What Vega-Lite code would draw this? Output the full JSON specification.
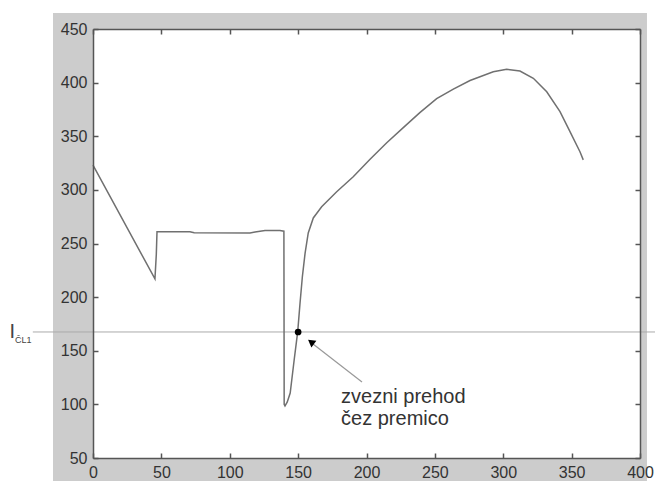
{
  "$schema": "https://vega.github.io/schema/vega-lite/v6.json",
  "width": 547,
  "height": 429,
  "autosize": {"type": "none"},
  "padding": {"left": 93, "top": 29, "right": 15, "bottom": 23},
  "background": "white",
  "data": {"values": [{}]},
  "config": {
    "view": {"stroke": null},
    "axis": {
      "grid": false,
      "title": null,
      "domainColor": "#555555",
      "domainWidth": 1.5,
      "tickColor": "#555555",
      "tickWidth": 1.5,
      "tickSize": 5,
      "labelFont": "Liberation Sans",
      "labelFontSize": 16,
      "labelColor": "#333333",
      "labelPadding": 6,
      "labelFlush": false
    }
  },
  "datasets": {
    "curve": [
      {"t": 0, "i": 323},
      {"t": 45.3, "i": 217},
      {"t": 46.3, "i": 240},
      {"t": 46.8, "i": 261},
      {"t": 70.9, "i": 261},
      {"t": 74, "i": 260},
      {"t": 114.8, "i": 259.8},
      {"t": 118.5, "i": 260.7},
      {"t": 125.8, "i": 262.2},
      {"t": 136.7, "i": 262.2},
      {"t": 139.6, "i": 261.5},
      {"t": 139.8, "i": 100},
      {"t": 140.4, "i": 98.5},
      {"t": 142, "i": 102},
      {"t": 144.2, "i": 110.6},
      {"t": 147.1, "i": 141.4},
      {"t": 149.7, "i": 167.8},
      {"t": 151.4, "i": 194.5},
      {"t": 153.1, "i": 219},
      {"t": 155.1, "i": 241.1},
      {"t": 157.4, "i": 259.8},
      {"t": 161.1, "i": 273.8},
      {"t": 167.2, "i": 284.3},
      {"t": 178.2, "i": 298.3},
      {"t": 190.3, "i": 312.3},
      {"t": 202.6, "i": 328.5},
      {"t": 214.8, "i": 344},
      {"t": 226.9, "i": 358},
      {"t": 239, "i": 372},
      {"t": 251.3, "i": 385},
      {"t": 263.5, "i": 394},
      {"t": 275.7, "i": 402},
      {"t": 283, "i": 405.5},
      {"t": 292.7, "i": 410.2},
      {"t": 302.5, "i": 412.5},
      {"t": 312.2, "i": 410.8},
      {"t": 322, "i": 404},
      {"t": 331.8, "i": 391.5},
      {"t": 341.5, "i": 373},
      {"t": 348.8, "i": 354.3},
      {"t": 356.1, "i": 335.6},
      {"t": 358.5, "i": 328}
    ],
    "crossing": [{"t": 150, "i": 167.5}]
  },
  "resolve": {"axis": {"x": "independent", "y": "independent"}},
  "layer": [
    {
      "mark": {"type": "rect", "fill": "#cccccc", "clip": false},
      "encoding": {
        "x": {"datum": -29.25, "type": "quantitative", "scale": {"domain": [0, 400], "nice": false, "zero": false}, "axis": null},
        "x2": {"datum": 405.1},
        "y": {"datum": 28.6, "type": "quantitative", "scale": {"domain": [50, 450], "nice": false, "zero": false}, "axis": null},
        "y2": {"datum": 464.9}
      }
    },
    {
      "mark": {"type": "rect", "fill": "white"},
      "encoding": {
        "x": {"datum": 0, "type": "quantitative",
              "axis": {"orient": "top", "zindex": 1, "offset": -5, "domain": false, "labels": false, "ticks": true, "values": [0, 50, 100, 150, 200, 250, 300, 350, 400]}},
        "x2": {"datum": 400},
        "y": {"datum": 50, "type": "quantitative",
              "axis": {"orient": "right", "zindex": 1, "offset": -5, "domain": false, "labels": false, "ticks": true, "values": [50, 100, 150, 200, 250, 300, 350, 400, 450]}},
        "y2": {"datum": 450}
      }
    },
    {
      "mark": {"type": "rule", "color": "#aaaaaa", "strokeWidth": 1, "clip": false},
      "encoding": {
        "x": {"datum": -44, "type": "quantitative", "axis": null},
        "x2": {"datum": 411},
        "y": {"datum": 167.5, "type": "quantitative", "axis": null}
      }
    },
    {
      "data": {"name": "curve"},
      "mark": {"type": "line", "color": "#707070", "strokeWidth": 1.5},
      "encoding": {
        "x": {"field": "t", "type": "quantitative", "scale": {"domain": [0, 400], "nice": false, "zero": false},
              "axis": {"orient": "bottom", "zindex": 1, "ticks": false, "values": [0, 50, 100, 150, 200, 250, 300, 350, 400]}},
        "y": {"field": "i", "type": "quantitative", "scale": {"domain": [50, 450], "nice": false, "zero": false},
              "axis": {"orient": "left", "zindex": 1, "ticks": false, "values": [50, 100, 150, 200, 250, 300, 350, 400, 450]}},
        "order": {"field": "t"}
      }
    },
    {
      "mark": {"type": "rule", "color": "#999999", "strokeWidth": 1.2, "clip": false},
      "encoding": {
        "x": {"datum": 196.7, "type": "quantitative", "axis": null},
        "x2": {"datum": 160.9},
        "y": {"datum": 120.9, "type": "quantitative", "axis": null},
        "y2": {"datum": 156.3}
      }
    },
    {
      "mark": {"type": "point", "shape": "triangle-up", "filled": true, "color": "black", "size": 70, "angle": 307, "opacity": 1},
      "encoding": {
        "x": {"datum": 159.4, "type": "quantitative",
              "axis": {"orient": "bottom", "zindex": 1, "offset": -5, "domain": false, "labels": false, "ticks": true, "values": [0, 50, 100, 150, 200, 250, 300, 350, 400]}},
        "y": {"datum": 158.2, "type": "quantitative",
              "axis": {"orient": "left", "zindex": 1, "offset": -5, "domain": false, "labels": false, "ticks": true, "values": [50, 100, 150, 200, 250, 300, 350, 400, 450]}}
      }
    },
    {
      "data": {"name": "crossing"},
      "mark": {"type": "point", "filled": true, "color": "black", "size": 45, "opacity": 1},
      "encoding": {
        "x": {"field": "t", "type": "quantitative",
              "axis": {"orient": "top", "zindex": 1, "labels": false, "ticks": false}},
        "y": {"field": "i", "type": "quantitative",
              "axis": {"orient": "right", "zindex": 1, "labels": false, "ticks": false}}
      }
    },
    {
      "mark": {"type": "text", "text": "I", "align": "left", "baseline": "alphabetic", "font": "Liberation Sans", "fontSize": 20, "color": "#444444", "clip": false},
      "encoding": {
        "x": {"datum": -61, "type": "quantitative", "axis": null},
        "y": {"datum": 161.9, "type": "quantitative", "axis": null}
      }
    },
    {
      "mark": {"type": "text", "text": "ČL1", "align": "left", "baseline": "alphabetic", "font": "Liberation Sans", "fontSize": 9, "color": "#444444", "clip": false},
      "encoding": {
        "x": {"datum": -57, "type": "quantitative", "axis": null},
        "y": {"datum": 157.2, "type": "quantitative", "axis": null}
      }
    },
    {
      "mark": {"type": "text", "text": ["zvezni prehod", "čez premico"], "align": "left", "baseline": "alphabetic", "font": "Liberation Sans", "fontSize": 20, "lineHeight": 22, "color": "#333333"},
      "encoding": {
        "x": {"datum": 181.4, "type": "quantitative", "axis": null},
        "y": {"datum": 101.3, "type": "quantitative", "axis": null}
      }
    }
  ]
}
